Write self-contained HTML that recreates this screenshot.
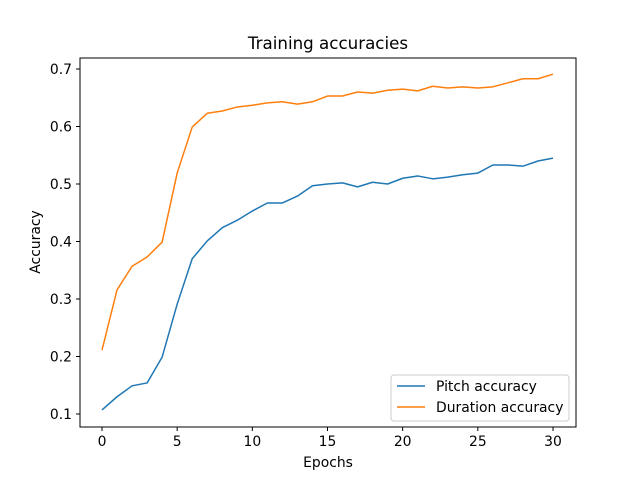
<!DOCTYPE html>
<html><head><meta charset="utf-8"><style>
body{margin:0;background:#fff;}
svg{font-family:"DejaVu Sans","Liberation Sans",sans-serif;}
</style></head><body>
<svg id="c" width="640" height="480" xmlns="http://www.w3.org/2000/svg">
<rect width="640" height="480" fill="#fff"/>
<text x="328" y="49" font-size="16.7" text-anchor="middle">Training accuracies</text>
<g id="plot"></g>
<rect x="80" y="58" width="496" height="369" fill="none" stroke="#000" stroke-width="1"/>
<text x="328" y="467" font-size="13.9" text-anchor="middle">Epochs</text>
<text transform="translate(40,242) rotate(-90)" font-size="13.9" text-anchor="middle">Accuracy</text>
<g>
<rect x="391" y="375" width="178" height="46" rx="3" fill="#fff" fill-opacity="0.8" stroke="#ccc"/>
<line x1="397" y1="386" x2="425" y2="386" stroke="#1f77b4" stroke-width="1.5"/>
<text x="436" y="391" font-size="13.9">Pitch accuracy</text>
<line x1="397" y1="407" x2="425" y2="407" stroke="#ff7f0e" stroke-width="1.5"/>
<text x="436" y="412" font-size="13.9">Duration accuracy</text>
</g>
</svg>
<script>
const epochs=[0,1,2,3,4,5,6,7,8,9,10,11,12,13,14,15,16,17,18,19,20,21,22,23,24,25,26,27,28,29,30];
const pitchAcc=[0.107,0.13,0.149,0.154,0.199,0.291,0.37,0.401,0.424,0.437,0.453,0.467,0.467,0.479,0.497,0.5,0.502,0.495,0.503,0.5,0.51,0.514,0.509,0.512,0.516,0.519,0.533,0.533,0.531,0.54,0.545];
const durationAcc=[0.211,0.316,0.357,0.373,0.399,0.519,0.599,0.623,0.627,0.634,0.637,0.641,0.643,0.639,0.643,0.653,0.653,0.66,0.658,0.663,0.665,0.662,0.67,0.667,0.669,0.667,0.669,0.676,0.683,0.683,0.691];
const xTicks=[0,5,10,15,20,25,30];
const yTicks=[0.1,0.2,0.3,0.4,0.5,0.6,0.7];
const xs=v=>102+v*(553-102)/30;
const ys=v=>414-(v-0.1)*575;
const NS="http://www.w3.org/2000/svg";
const g=document.getElementById('plot');
function mk(t,a){const e=document.createElementNS(NS,t);for(const k in a)e.setAttribute(k,a[k]);g.appendChild(e);return e;}
xTicks.forEach(t=>{
 const l=mk('line',{x1:xs(t),x2:xs(t),y1:427,y2:431,stroke:'#000'});
 
 
 const tx=mk('text',{x:xs(t),y:446,'font-size':13.9,'text-anchor':'middle'});
 tx.textContent=t;
 
 
});
yTicks.forEach(t=>{
 const l=mk('line',{x1:76,x2:80,y1:ys(t),y2:ys(t),stroke:'#000'});
 
 
 const tx=mk('text',{x:72,y:ys(t)+5,'font-size':13.9,'text-anchor':'end'});
 tx.textContent=t.toFixed(1);
 
 
});
function line(data,color,name){
 const p=mk('polyline',{points:data.map((v,i)=>xs(epochs[i])+','+ys(v)).join(' '),fill:'none',stroke:color,'stroke-width':1.5,'stroke-linejoin':'round'});
 
 
}
line(pitchAcc,'#1f77b4','pitch-accuracy-line');
line(durationAcc,'#ff7f0e','duration-accuracy-line');
</script>
</body></html>
